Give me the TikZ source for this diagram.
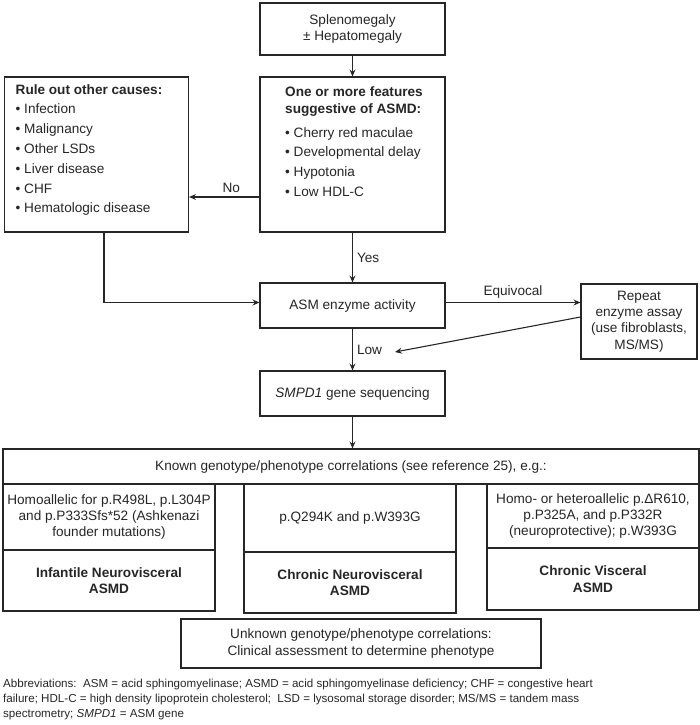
\documentclass[tikz,border=0pt]{standalone}
\usepackage{fontspec}
\setmainfont{Liberation Sans}
\usetikzlibrary{arrows.meta}

\begin{document}
\begin{tikzpicture}
        [x=1pt, y=-1pt,
        every node/.style={font=\fontsize{13.6}{16.3}\selectfont, text=black!85, inner sep=0pt},
        box/.style={draw=black!85, line width=1.1pt, align=center},
        listtext/.style={anchor=north west, align=left, font=\fontsize{13.6}{19.8}\selectfont},
        tag/.style={inner sep=4pt},
        arr/.style={draw=black!85, line width=1.1pt, -{Stealth[length=7pt,width=6pt,inset=2.5pt]}}]

    \useasboundingbox (0,0) rectangle (700,725);

    \node[box, minimum width=185, minimum height=52] (spleno) at (352.5,29) {Splenomegaly\\± Hepatomegaly};

    \node[box, minimum width=185, minimum height=155] (feat) at (352.5,154.5) {};
    \node[listtext] (featText) at (285,86)
      {\textbf{One or more features}\\[-2.8pt]
       \textbf{suggestive of ASMD:}\\[4.2pt]
       \textbullet\ Cherry red maculae\\
       \textbullet\ Developmental delay\\
       \textbullet\ Hypotonia\\
       \textbullet\ Low HDL-C};

    \node[box, minimum width=184, minimum height=155] (rule) at (96.5,154.5) {};
    \node[listtext] (ruleText) at (15.5,84)
      {\textbf{Rule out other causes:}\\
       \textbullet\ Infection\\
       \textbullet\ Malignancy\\
       \textbullet\ Other LSDs\\
       \textbullet\ Liver disease\\
       \textbullet\ CHF\\
       \textbullet\ Hematologic disease};

    \node[box, minimum width=185, minimum height=45] (asm) at (352.5,305.5) {ASM enzyme activity};
    \node[box, minimum width=116, minimum height=75] (repeat) at (639,321.5)
      {Repeat\\enzyme assay\\(use fibroblasts,\\MS/MS)};
    \node[box, minimum width=185, minimum height=45] (smpd) at (352.5,393.5) {\textit{SMPD1} gene sequencing};

    \node[box, minimum width=696, minimum height=35] (known) at (351,466.5)
      {Known genotype/phenotype correlations (see reference 25), e.g.:};

    \begin{scope}[every node/.append style={box, minimum width=212}]
      \node[minimum height=66] (geneA) at (109,517)
        {Homoallelic for p.R498L, p.L304P\\and p.P333Sfs*52 (Ashkenazi\\founder mutations)};
      \node[minimum height=61] (typeA) at (109,580.5)
        {\textbf{Infantile Neurovisceral}\\\textbf{ASMD}};
      \node[minimum height=68] (geneB) at (350,518) {p.Q294K and p.W393G};
      \node[minimum height=61] (typeB) at (350,582.5)
        {\textbf{Chronic Neurovisceral}\\\textbf{ASMD}};
      \node[minimum height=64] (geneC) at (593,516)
        {Homo- or heteroallelic p.ΔR610,\\p.P325A, and p.P332R\\(neuroprotective); p.W393G};
      \node[minimum height=62] (typeC) at (593,579)
        {\textbf{Chronic Visceral}\\\textbf{ASMD}};
    \end{scope}

    \node[box, minimum width=360, minimum height=49] (unknown) at (361,643.5)
      {Unknown genotype/phenotype correlations:\\Clinical assessment to determine phenotype};

    \node[anchor=north west, align=left, font=\fontsize{11.6}{15}\selectfont] (abbrev) at (3,679)
      {Abbreviations:\ \ ASM = acid sphingomyelinase; ASMD = acid sphingomyelinase deficiency; CHF = congestive heart\\
       failure; HDL-C = high density lipoprotein cholesterol;\ \ LSD = lysosomal storage disorder; MS/MS = tandem mass\\
       spectrometry; \textit{SMPD1} = ASM gene};

    \coordinate (lowTip) at (395,352);

    \draw[arr] (spleno.south) -- (feat.north);
    \draw[arr] ([yshift=-42.5]feat.west) -- ([yshift=-42.5]feat.west -| rule.east)
      node[tag, pos=0.4, above] {No};
    \draw[arr] (feat.south) -- (asm.north) node[tag, midway, right] {Yes};
    \draw[arr] ([xshift=7.5]rule.south) |- ([yshift=3]asm.west);
    \draw[arr] ([yshift=3]asm.east) -- ([yshift=3]asm.east -| repeat.west)
      node[tag, midway, above] {Equivocal};
    \draw[arr] ([yshift=4.5]repeat.west) -- (lowTip);
    \draw[arr] (asm.south) -- (smpd.north) node[tag, midway, right] {Low};
    \draw[arr] (smpd.south) -- (smpd.south |- known.north);
\end{tikzpicture}
\end{document}
